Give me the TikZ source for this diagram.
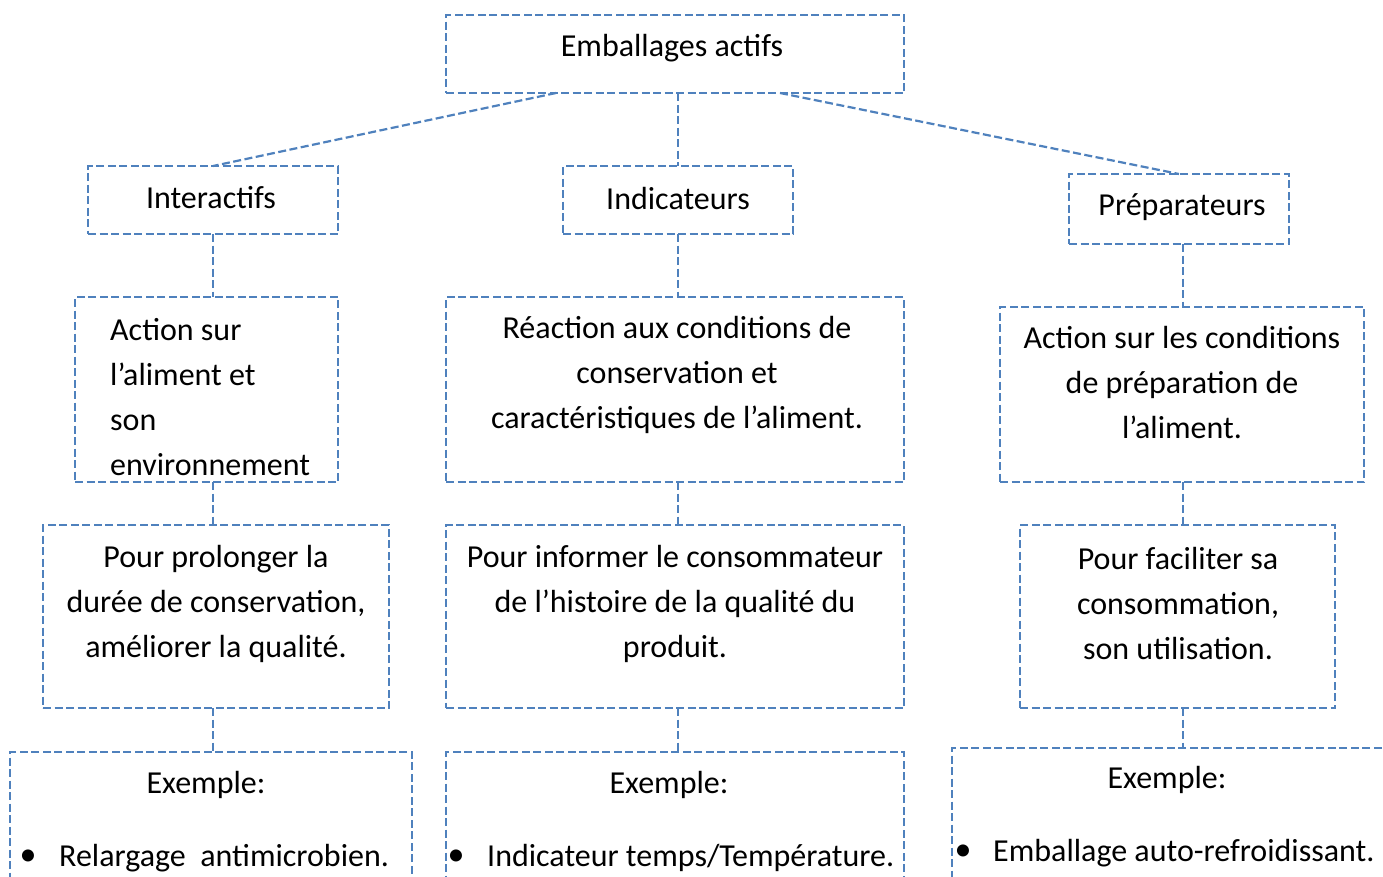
\documentclass[tikz,border=0pt]{standalone}
\usepackage{fontspec}
\setmainfont{Carlito}
\usetikzlibrary{calc}
\definecolor{boxblue}{HTML}{4F81BD}
\newcommand\lbfont{\fontsize{32}{45}\selectfont}
\tikzset{
  box/.style={draw=boxblue, line width=2.2pt, dash pattern=on 8pt off 3.5pt, inner sep=0pt, outer sep=0pt},
  conn/.style={draw=boxblue, line width=2.2pt, dash pattern=on 8pt off 3.5pt},
  lbl/.style={font=\lbfont, align=center, inner sep=0pt},
  bul/.style={font=\fontsize{34}{34}\selectfont, inner sep=0pt}
}
\begin{document}
\begin{tikzpicture}[x=1pt,y=-1pt]
\useasboundingbox (0,0) rectangle (1383,876);
% boxes
\node[box, minimum width=458, minimum height=78] (top) at (675,54) {};
\node[box, minimum width=250, minimum height=68] (inter) at (213,200) {};
\node[box, minimum width=230, minimum height=68] (indic) at (678,200) {};
\node[box, minimum width=220, minimum height=70] (prep) at (1179,209) {};
\node[box, minimum width=263, minimum height=185] (act1) at (206.5,389.5) {};
\node[box, minimum width=458, minimum height=185] (react) at (675,389.5) {};
\node[box, minimum width=364, minimum height=175] (act3) at (1182,394.5) {};
\node[box, minimum width=346, minimum height=183] (pour1) at (216,616.5) {};
\node[box, minimum width=458, minimum height=183] (pour2) at (675,616.5) {};
\node[box, minimum width=315, minimum height=183] (pour3) at (1177.5,616.5) {};
\node[box, minimum width=402, minimum height=168] (ex1) at (211,836) {};
\node[box, minimum width=458, minimum height=168] (ex2) at (675,836) {};
\node[box, minimum width=468, minimum height=172] (ex3) at (1186,834) {};
% connectors
\draw[conn] ([xshift=-119pt]top.south) -- (inter.north);
\draw[conn] (top.south -| indic.north) -- (indic.north);
\draw[conn] ([xshift=105pt]top.south) -- (prep.north);
\draw[conn] (inter.south) -- (inter.south |- act1.north);
\draw[conn] (inter.south |- act1.south) -- (inter.south |- pour1.north);
\draw[conn] (inter.south |- pour1.south) -- (inter.south |- ex1.north);
\draw[conn] (indic.south) -- (indic.south |- react.north);
\draw[conn] (indic.south |- react.south) -- (indic.south |- pour2.north);
\draw[conn] (indic.south |- pour2.south) -- (indic.south |- ex2.north);
\draw[conn] ([xshift=4pt]prep.south) -- ([xshift=4pt]prep.south |- act3.north);
\draw[conn] ([xshift=4pt]prep.south |- act3.south) -- ([xshift=4pt]prep.south |- pour3.north);
\draw[conn] ([xshift=4pt]prep.south |- pour3.south) -- ([xshift=4pt]prep.south |- ex3.north);
% texts
\node[lbl] (ttop) at (672,48) {Emballages actifs};
\node[lbl] (tinter) at (211,198) {Interactifs};
\node[lbl] (tindic) at (678,199) {Indicateurs};
\node[lbl] (tprep) at (1182,207) {Préparateurs};
\node[lbl, align=left, anchor=west] (tact1) at (110,397) {Action sur\\l’aliment et\\son\\environnement};
\node[lbl] (treact) at (677,375) {Réaction aux conditions de\\conservation et\\caractéristiques de l’aliment.};
\node[lbl] (tact3) at (1182,383) {Action sur les conditions\\de préparation de\\l’aliment.};
\node[lbl] (tpour1) at (216,604) {Pour prolonger la\\durée de conservation,\\améliorer la qualité.};
\node[lbl] (tpour2) at (675,604) {Pour informer le consommateur\\de l’histoire de la qualité du\\produit.};
\node[lbl] (tpour3) at (1178,604) {Pour faciliter sa\\consommation,\\son utilisation.};
\node[lbl] (tex1) at (206,785) {Exemple:};
\node[lbl] (tex2) at (669,785) {Exemple:};
\node[lbl] (tex3) at (1167,780) {Exemple:};
\node[bul] (b1) at (28,858) {•};
\node[bul] (b2) at (456,858) {•};
\node[bul] (b3) at (963,853) {•};
\node[lbl, anchor=west] (i1) at (59,858) {Relargage\ \ antimicrobien.};
\node[lbl, anchor=west] (i2) at (487,858) {Indicateur temps/Température.};
\node[lbl, anchor=west] (i3) at (993,853) {Emballage auto-refroidissant.};
\end{tikzpicture}
\end{document}
